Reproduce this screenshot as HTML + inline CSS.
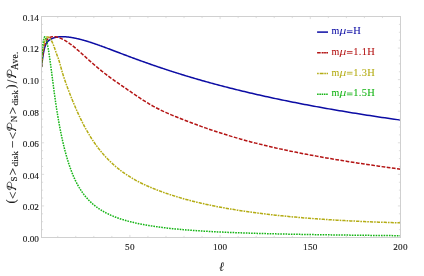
<!DOCTYPE html>
<html><head><meta charset="utf-8"><title>plot</title>
<style>html,body{margin:0;padding:0;background:#fff;width:424px;height:276px;overflow:hidden;font-family:"Liberation Serif",serif}</style></head>
<body>
<svg width="424" height="276" viewBox="0 0 424 276" style="position:absolute;left:0;top:0;will-change:transform">
<rect width="424" height="276" fill="#fff"/>
<clipPath id="c"><rect x="41.5" y="16.5" width="359.0" height="221.0"/></clipPath>
<g clip-path="url(#c)" fill="none" stroke-width="1.5" stroke-linejoin="round">
<path d="M41.50,67.01 L41.52,66.90 L41.53,66.78 L41.55,66.66 L41.56,66.54 L41.58,66.42 L41.60,66.29 L41.62,66.17 L41.63,66.04 L41.65,65.91 L41.67,65.77 L41.68,65.64 L41.70,65.50 L41.72,65.36 L41.74,65.22 L41.76,65.08 L41.77,64.94 L41.79,64.79 L41.81,64.65 L41.83,64.50 L41.85,64.35 L41.87,64.20 L41.89,64.04 L41.91,63.89 L41.93,63.73 L41.95,63.58 L41.97,63.42 L41.99,63.26 L42.01,63.10 L42.03,62.93 L42.05,62.77 L42.07,62.60 L42.09,62.44 L42.11,62.27 L42.13,62.10 L42.15,61.93 L42.18,61.76 L42.20,61.59 L42.22,61.41 L42.24,61.24 L42.27,61.07 L42.29,60.89 L42.31,60.71 L42.33,60.54 L42.36,60.36 L42.38,60.18 L42.41,60.00 L42.43,59.82 L42.45,59.64 L42.48,59.45 L42.50,59.27 L42.53,59.09 L42.55,58.91 L42.58,58.72 L42.60,58.54 L42.63,58.35 L42.66,58.17 L42.68,57.98 L42.71,57.79 L42.74,57.61 L42.76,57.42 L42.79,57.23 L42.82,57.05 L42.85,56.86 L42.87,56.67 L42.90,56.48 L42.93,56.29 L42.96,56.11 L42.99,55.92 L43.02,55.73 L43.05,55.54 L43.08,55.35 L43.11,55.17 L43.14,54.98 L43.17,54.79 L43.20,54.60 L43.23,54.42 L43.26,54.23 L43.29,54.04 L43.32,53.86 L43.36,53.67 L43.39,53.48 L43.42,53.30 L43.46,53.11 L43.49,52.93 L43.52,52.75 L43.56,52.56 L43.59,52.38 L43.63,52.20 L43.66,52.02 L43.70,51.83 L43.73,51.65 L43.77,51.48 L43.80,51.30 L43.84,51.12 L43.88,50.94 L43.91,50.77 L43.95,50.59 L43.99,50.42 L44.03,50.24 L44.07,50.07 L44.10,49.90 L44.14,49.73 L44.18,49.56 L44.22,49.39 L44.26,49.23 L44.30,49.06 L44.34,48.90 L44.39,48.73 L44.43,48.57 L44.47,48.41 L44.51,48.25 L44.55,48.09 L44.60,47.94 L44.64,47.78 L44.68,47.63 L44.73,47.47 L44.77,47.32 L44.82,47.18 L44.86,47.03 L44.91,46.88 L44.96,46.74 L45.00,46.59 L45.05,46.45 L45.10,46.31 L45.15,46.17 L45.19,46.04 L45.24,45.90 L45.29,45.77 L45.34,45.63 L45.39,45.50 L45.44,45.37 L45.49,45.25 L45.55,45.12 L45.60,44.99 L45.65,44.87 L45.70,44.75 L45.76,44.63 L45.81,44.51 L45.86,44.39 L45.92,44.27 L45.97,44.16 L46.03,44.04 L46.09,43.93 L46.14,43.82 L46.20,43.71 L46.26,43.60 L46.32,43.49 L46.38,43.39 L46.44,43.28 L46.50,43.18 L46.56,43.08 L46.62,42.98 L46.68,42.88 L46.74,42.79 L46.80,42.69 L46.87,42.59 L46.93,42.50 L46.99,42.41 L47.06,42.32 L47.12,42.23 L47.19,42.14 L47.26,42.06 L47.32,41.97 L47.39,41.89 L47.46,41.81 L47.53,41.72 L47.60,41.64 L47.67,41.57 L47.74,41.49 L47.81,41.41 L47.88,41.34 L47.96,41.27 L48.03,41.19 L48.10,41.12 L48.18,41.05 L48.25,40.98 L48.33,40.92 L48.41,40.85 L48.48,40.78 L48.56,40.72 L48.64,40.65 L48.72,40.59 L48.80,40.53 L48.88,40.46 L48.96,40.40 L49.04,40.34 L49.13,40.28 L49.21,40.22 L49.30,40.16 L49.38,40.10 L49.47,40.04 L49.55,39.98 L49.64,39.92 L49.73,39.86 L49.82,39.80 L49.91,39.74 L50.00,39.68 L50.09,39.63 L50.18,39.57 L50.28,39.51 L50.37,39.45 L50.47,39.40 L50.56,39.34 L50.66,39.29 L50.76,39.23 L50.85,39.18 L50.95,39.12 L51.05,39.07 L51.15,39.01 L51.26,38.96 L51.36,38.91 L51.46,38.85 L51.57,38.80 L51.67,38.75 L51.78,38.70 L51.89,38.65 L51.99,38.60 L52.10,38.55 L52.21,38.50 L52.32,38.45 L52.44,38.40 L52.55,38.35 L52.66,38.31 L52.78,38.26 L52.90,38.21 L53.01,38.17 L53.13,38.12 L53.25,38.08 L53.37,38.03 L53.49,37.99 L53.62,37.95 L53.74,37.90 L53.86,37.86 L53.99,37.82 L54.12,37.78 L54.24,37.74 L54.37,37.70 L54.50,37.66 L54.64,37.62 L54.77,37.58 L54.90,37.55 L55.04,37.51 L55.17,37.48 L55.31,37.44 L55.45,37.41 L55.59,37.37 L55.73,37.34 L55.87,37.31 L56.02,37.28 L56.16,37.25 L56.31,37.22 L56.46,37.19 L56.61,37.16 L56.76,37.13 L56.91,37.10 L57.06,37.08 L57.21,37.05 L57.37,37.03 L57.53,37.00 L57.69,36.98 L57.85,36.96 L58.01,36.93 L58.17,36.91 L58.33,36.89 L58.50,36.87 L58.67,36.86 L58.83,36.84 L59.00,36.82 L59.18,36.81 L59.35,36.79 L59.52,36.78 L59.70,36.76 L59.88,36.75 L60.06,36.74 L60.24,36.73 L60.42,36.72 L60.60,36.71 L60.79,36.70 L60.98,36.70 L61.17,36.69 L61.36,36.69 L61.55,36.68 L61.74,36.68 L61.94,36.68 L62.14,36.68 L62.34,36.68 L62.54,36.68 L62.74,36.68 L62.95,36.68 L63.15,36.69 L63.36,36.69 L63.57,36.70 L63.78,36.71 L64.00,36.71 L64.21,36.72 L64.43,36.73 L64.65,36.74 L64.87,36.76 L65.10,36.77 L65.32,36.79 L65.55,36.80 L65.78,36.82 L66.01,36.84 L66.24,36.86 L66.48,36.88 L66.72,36.90 L66.96,36.92 L67.20,36.94 L67.45,36.97 L67.69,36.99 L67.94,37.02 L68.19,37.05 L68.44,37.08 L68.70,37.11 L68.96,37.14 L69.22,37.18 L69.48,37.21 L69.74,37.25 L70.01,37.28 L70.28,37.32 L70.55,37.36 L70.83,37.40 L71.10,37.45 L71.38,37.49 L71.66,37.54 L71.95,37.58 L72.23,37.63 L72.52,37.68 L72.82,37.73 L73.11,37.79 L73.41,37.84 L73.71,37.90 L74.01,37.96 L74.31,38.01 L74.62,38.08 L74.93,38.14 L75.24,38.20 L75.56,38.27 L75.88,38.33 L76.20,38.40 L76.52,38.47 L76.85,38.55 L77.18,38.62 L77.51,38.70 L77.85,38.77 L78.19,38.85 L78.53,38.93 L78.88,39.02 L79.22,39.10 L79.58,39.19 L79.93,39.28 L80.29,39.37 L80.65,39.46 L81.01,39.55 L81.38,39.65 L81.75,39.75 L82.12,39.85 L82.50,39.95 L82.88,40.05 L83.26,40.16 L83.65,40.27 L84.04,40.38 L84.44,40.49 L84.83,40.60 L85.23,40.72 L85.64,40.84 L86.05,40.96 L86.46,41.08 L86.87,41.21 L87.29,41.33 L87.72,41.46 L88.14,41.59 L88.57,41.73 L89.01,41.86 L89.45,42.00 L89.89,42.14 L90.33,42.28 L90.78,42.43 L91.24,42.58 L91.69,42.73 L92.16,42.88 L92.62,43.03 L93.09,43.19 L93.57,43.35 L94.05,43.51 L94.53,43.67 L95.02,43.84 L95.51,44.01 L96.00,44.18 L96.50,44.36 L97.01,44.53 L97.52,44.71 L98.03,44.89 L98.55,45.08 L99.07,45.26 L99.60,45.45 L100.13,45.65 L100.67,45.84 L101.21,46.04 L101.76,46.24 L102.31,46.44 L102.87,46.64 L103.43,46.85 L103.99,47.06 L104.56,47.27 L105.14,47.48 L105.72,47.70 L106.31,47.92 L106.90,48.14 L107.50,48.37 L108.10,48.59 L108.71,48.82 L109.32,49.05 L109.94,49.29 L110.56,49.52 L111.19,49.76 L111.83,50.00 L112.47,50.24 L113.12,50.49 L113.77,50.74 L114.43,50.99 L115.09,51.24 L115.76,51.49 L116.44,51.75 L117.12,52.01 L117.80,52.27 L118.50,52.53 L119.20,52.80 L119.91,53.07 L120.62,53.34 L121.34,53.61 L122.06,53.88 L122.79,54.16 L123.53,54.44 L124.28,54.72 L125.03,55.00 L125.79,55.28 L126.55,55.57 L127.32,55.86 L128.10,56.15 L128.89,56.45 L129.68,56.74 L130.48,57.04 L131.29,57.34 L132.10,57.64 L132.92,57.94 L133.75,58.25 L134.58,58.56 L135.43,58.87 L136.28,59.18 L137.14,59.49 L138.00,59.81 L138.87,60.12 L139.76,60.44 L140.65,60.76 L141.54,61.09 L142.45,61.41 L143.36,61.74 L144.28,62.07 L145.21,62.40 L146.15,62.73 L147.09,63.07 L148.05,63.40 L149.01,63.74 L149.98,64.08 L150.96,64.42 L151.95,64.77 L152.95,65.11 L153.95,65.46 L154.97,65.81 L155.99,66.16 L157.03,66.51 L158.07,66.86 L159.12,67.22 L160.18,67.58 L161.25,67.94 L162.33,68.30 L163.42,68.66 L164.52,69.03 L165.63,69.39 L166.75,69.76 L167.88,70.13 L169.02,70.50 L170.16,70.87 L171.32,71.25 L172.49,71.62 L173.67,72.00 L174.86,72.38 L176.06,72.76 L177.28,73.14 L178.50,73.52 L179.73,73.91 L180.97,74.29 L182.23,74.68 L183.50,75.07 L184.77,75.46 L186.06,75.85 L187.36,76.25 L188.68,76.64 L190.00,77.04 L191.33,77.43 L192.68,77.83 L194.04,78.23 L195.41,78.63 L196.80,79.03 L198.19,79.44 L199.60,79.84 L201.02,80.25 L202.45,80.66 L203.90,81.06 L205.36,81.47 L206.83,81.88 L208.31,82.30 L209.81,82.71 L211.32,83.12 L212.85,83.54 L214.39,83.95 L215.94,84.37 L217.51,84.79 L219.09,85.21 L220.68,85.63 L222.29,86.05 L223.91,86.47 L225.55,86.89 L227.20,87.32 L228.86,87.74 L230.54,88.17 L232.24,88.59 L233.95,89.02 L235.68,89.45 L237.42,89.88 L239.17,90.31 L240.95,90.74 L242.73,91.17 L244.54,91.60 L246.36,92.03 L248.19,92.47 L250.05,92.90 L251.91,93.34 L253.80,93.77 L255.70,94.21 L257.62,94.65 L259.56,95.08 L261.51,95.52 L263.48,95.96 L265.47,96.40 L267.48,96.84 L269.50,97.28 L271.54,97.72 L273.60,98.16 L275.68,98.61 L277.78,99.05 L279.89,99.49 L282.03,99.93 L284.18,100.38 L286.35,100.82 L288.54,101.27 L290.75,101.71 L292.98,102.16 L295.23,102.60 L297.50,103.05 L299.79,103.49 L302.11,103.94 L304.44,104.39 L306.79,104.84 L309.16,105.28 L311.56,105.73 L313.97,106.18 L316.41,106.63 L318.87,107.07 L321.35,107.52 L323.85,107.97 L326.37,108.42 L328.92,108.87 L331.49,109.32 L334.08,109.77 L336.70,110.22 L339.34,110.66 L342.00,111.11 L344.68,111.56 L347.39,112.01 L350.13,112.46 L352.89,112.91 L355.67,113.36 L358.48,113.81 L361.31,114.26 L364.17,114.71 L367.05,115.15 L369.96,115.60 L372.89,116.05 L375.85,116.50 L378.84,116.95 L381.85,117.39 L384.89,117.84 L387.96,118.29 L391.05,118.74 L394.17,119.18 L397.32,119.63 L400.50,120.08" stroke="#0c0ca4"/>
<path d="M41.50,66.99 L41.52,66.77 L41.53,66.55 L41.55,66.34 L41.56,66.12 L41.58,65.91 L41.60,65.69 L41.62,65.48 L41.63,65.26 L41.65,65.04 L41.67,64.83 L41.68,64.61 L41.70,64.40 L41.72,64.19 L41.74,63.97 L41.76,63.76 L41.77,63.54 L41.79,63.33 L41.81,63.11 L41.83,62.90 L41.85,62.69 L41.87,62.47 L41.89,62.26 L41.91,62.05 L41.93,61.84 L41.95,61.63 L41.97,61.41 L41.99,61.20 L42.01,60.99 L42.03,60.78 L42.05,60.57 L42.07,60.36 L42.09,60.15 L42.11,59.94 L42.13,59.73 L42.15,59.52 L42.18,59.31 L42.20,59.11 L42.22,58.90 L42.24,58.69 L42.27,58.49 L42.29,58.28 L42.31,58.07 L42.33,57.87 L42.36,57.66 L42.38,57.46 L42.41,57.26 L42.43,57.05 L42.45,56.85 L42.48,56.65 L42.50,56.45 L42.53,56.24 L42.55,56.04 L42.58,55.84 L42.60,55.64 L42.63,55.45 L42.66,55.25 L42.68,55.05 L42.71,54.85 L42.74,54.66 L42.76,54.46 L42.79,54.27 L42.82,54.07 L42.85,53.88 L42.87,53.68 L42.90,53.49 L42.93,53.30 L42.96,53.11 L42.99,52.92 L43.02,52.73 L43.05,52.54 L43.08,52.35 L43.11,52.16 L43.14,51.98 L43.17,51.79 L43.20,51.61 L43.23,51.42 L43.26,51.24 L43.29,51.06 L43.32,50.87 L43.36,50.69 L43.39,50.51 L43.42,50.33 L43.46,50.15 L43.49,49.98 L43.52,49.80 L43.56,49.62 L43.59,49.45 L43.63,49.27 L43.66,49.10 L43.70,48.93 L43.73,48.76 L43.77,48.59 L43.80,48.42 L43.84,48.25 L43.88,48.08 L43.91,47.92 L43.95,47.75 L43.99,47.59 L44.03,47.42 L44.07,47.26 L44.10,47.10 L44.14,46.94 L44.18,46.78 L44.22,46.62 L44.26,46.47 L44.30,46.31 L44.34,46.16 L44.39,46.00 L44.43,45.85 L44.47,45.70 L44.51,45.55 L44.55,45.40 L44.60,45.25 L44.64,45.10 L44.68,44.96 L44.73,44.81 L44.77,44.67 L44.82,44.53 L44.86,44.39 L44.91,44.25 L44.96,44.11 L45.00,43.97 L45.05,43.84 L45.10,43.70 L45.15,43.57 L45.19,43.44 L45.24,43.31 L45.29,43.18 L45.34,43.05 L45.39,42.92 L45.44,42.80 L45.49,42.68 L45.55,42.55 L45.60,42.43 L45.65,42.31 L45.70,42.19 L45.76,42.07 L45.81,41.96 L45.86,41.84 L45.92,41.73 L45.97,41.62 L46.03,41.51 L46.09,41.40 L46.14,41.29 L46.20,41.18 L46.26,41.08 L46.32,40.97 L46.38,40.87 L46.44,40.77 L46.50,40.66 L46.56,40.57 L46.62,40.47 L46.68,40.37 L46.74,40.28 L46.80,40.18 L46.87,40.09 L46.93,40.00 L46.99,39.91 L47.06,39.82 L47.12,39.73 L47.19,39.64 L47.26,39.56 L47.32,39.47 L47.39,39.39 L47.46,39.31 L47.53,39.23 L47.60,39.15 L47.67,39.07 L47.74,38.99 L47.81,38.92 L47.88,38.85 L47.96,38.77 L48.03,38.70 L48.10,38.63 L48.18,38.56 L48.25,38.50 L48.33,38.43 L48.41,38.36 L48.48,38.30 L48.56,38.24 L48.64,38.18 L48.72,38.12 L48.80,38.06 L48.88,38.00 L48.96,37.94 L49.04,37.89 L49.13,37.83 L49.21,37.78 L49.30,37.73 L49.38,37.68 L49.47,37.63 L49.55,37.58 L49.64,37.54 L49.73,37.49 L49.82,37.45 L49.91,37.41 L50.00,37.37 L50.09,37.33 L50.18,37.29 L50.28,37.25 L50.37,37.21 L50.47,37.18 L50.56,37.14 L50.66,37.11 L50.76,37.08 L50.85,37.05 L50.95,37.02 L51.05,36.99 L51.15,36.97 L51.26,36.94 L51.36,36.92 L51.46,36.89 L51.57,36.87 L51.67,36.85 L51.78,36.83 L51.89,36.81 L51.99,36.80 L52.10,36.78 L52.21,36.77 L52.32,36.76 L52.44,36.74 L52.55,36.73 L52.66,36.72 L52.78,36.72 L52.90,36.71 L53.01,36.70 L53.13,36.70 L53.25,36.69 L53.37,36.69 L53.49,36.69 L53.62,36.69 L53.74,36.69 L53.86,36.70 L53.99,36.70 L54.12,36.71 L54.24,36.71 L54.37,36.72 L54.50,36.73 L54.64,36.74 L54.77,36.75 L54.90,36.76 L55.04,36.78 L55.17,36.79 L55.31,36.81 L55.45,36.82 L55.59,36.84 L55.73,36.86 L55.87,36.89 L56.02,36.91 L56.16,36.94 L56.31,36.96 L56.46,36.99 L56.61,37.02 L56.76,37.05 L56.91,37.08 L57.06,37.12 L57.21,37.15 L57.37,37.19 L57.53,37.23 L57.69,37.27 L57.85,37.32 L58.01,37.36 L58.17,37.41 L58.33,37.46 L58.50,37.51 L58.67,37.56 L58.83,37.62 L59.00,37.67 L59.18,37.73 L59.35,37.79 L59.52,37.85 L59.70,37.92 L59.88,37.99 L60.06,38.06 L60.24,38.13 L60.42,38.20 L60.60,38.28 L60.79,38.35 L60.98,38.43 L61.17,38.52 L61.36,38.60 L61.55,38.69 L61.74,38.78 L61.94,38.87 L62.14,38.97 L62.34,39.06 L62.54,39.16 L62.74,39.27 L62.95,39.37 L63.15,39.48 L63.36,39.59 L63.57,39.70 L63.78,39.81 L64.00,39.93 L64.21,40.05 L64.43,40.18 L64.65,40.30 L64.87,40.43 L65.10,40.56 L65.32,40.70 L65.55,40.84 L65.78,40.98 L66.01,41.12 L66.24,41.27 L66.48,41.42 L66.72,41.57 L66.96,41.72 L67.20,41.88 L67.45,42.04 L67.69,42.21 L67.94,42.38 L68.19,42.55 L68.44,42.72 L68.70,42.90 L68.96,43.08 L69.22,43.26 L69.48,43.45 L69.74,43.64 L70.01,43.84 L70.28,44.03 L70.55,44.23 L70.83,44.44 L71.10,44.65 L71.38,44.86 L71.66,45.07 L71.95,45.29 L72.23,45.51 L72.52,45.74 L72.82,45.97 L73.11,46.20 L73.41,46.44 L73.71,46.68 L74.01,46.92 L74.31,47.17 L74.62,47.42 L74.93,47.68 L75.24,47.94 L75.56,48.20 L75.88,48.47 L76.20,48.74 L76.52,49.01 L76.85,49.29 L77.18,49.58 L77.51,49.86 L77.85,50.16 L78.19,50.45 L78.53,50.75 L78.88,51.05 L79.22,51.36 L79.58,51.67 L79.93,51.99 L80.29,52.31 L80.65,52.63 L81.01,52.96 L81.38,53.29 L81.75,53.62 L82.12,53.96 L82.50,54.30 L82.88,54.64 L83.26,54.99 L83.65,55.34 L84.04,55.70 L84.44,56.06 L84.83,56.42 L85.23,56.78 L85.64,57.15 L86.05,57.52 L86.46,57.89 L86.87,58.27 L87.29,58.65 L87.72,59.03 L88.14,59.41 L88.57,59.80 L89.01,60.19 L89.45,60.58 L89.89,60.97 L90.33,61.37 L90.78,61.77 L91.24,62.17 L91.69,62.58 L92.16,62.98 L92.62,63.39 L93.09,63.80 L93.57,64.22 L94.05,64.63 L94.53,65.05 L95.02,65.47 L95.51,65.89 L96.00,66.31 L96.50,66.74 L97.01,67.16 L97.52,67.59 L98.03,68.02 L98.55,68.45 L99.07,68.89 L99.60,69.32 L100.13,69.75 L100.67,70.19 L101.21,70.63 L101.76,71.07 L102.31,71.51 L102.87,71.95 L103.43,72.39 L103.99,72.84 L104.56,73.28 L105.14,73.73 L105.72,74.18 L106.31,74.62 L106.90,75.07 L107.50,75.52 L108.10,75.97 L108.71,76.42 L109.32,76.88 L109.94,77.33 L110.56,77.79 L111.19,78.24 L111.83,78.70 L112.47,79.16 L113.12,79.63 L113.77,80.09 L114.43,80.56 L115.09,81.03 L115.76,81.50 L116.44,81.98 L117.12,82.46 L117.80,82.94 L118.50,83.42 L119.20,83.91 L119.91,84.40 L120.62,84.89 L121.34,85.39 L122.06,85.89 L122.79,86.39 L123.53,86.90 L124.28,87.41 L125.03,87.93 L125.79,88.45 L126.55,88.98 L127.32,89.51 L128.10,90.04 L128.89,90.58 L129.68,91.12 L130.48,91.67 L131.29,92.22 L132.10,92.78 L132.92,93.34 L133.75,93.91 L134.58,94.48 L135.43,95.05 L136.28,95.63 L137.14,96.21 L138.00,96.79 L138.87,97.37 L139.76,97.95 L140.65,98.54 L141.54,99.13 L142.45,99.71 L143.36,100.30 L144.28,100.88 L145.21,101.46 L146.15,102.04 L147.09,102.62 L148.05,103.20 L149.01,103.78 L149.98,104.35 L150.96,104.92 L151.95,105.48 L152.95,106.04 L153.95,106.59 L154.97,107.14 L155.99,107.69 L157.03,108.22 L158.07,108.76 L159.12,109.28 L160.18,109.80 L161.25,110.32 L162.33,110.83 L163.42,111.34 L164.52,111.85 L165.63,112.35 L166.75,112.85 L167.88,113.35 L169.02,113.84 L170.16,114.34 L171.32,114.83 L172.49,115.32 L173.67,115.81 L174.86,116.30 L176.06,116.79 L177.28,117.28 L178.50,117.77 L179.73,118.26 L180.97,118.76 L182.23,119.25 L183.50,119.75 L184.77,120.25 L186.06,120.75 L187.36,121.25 L188.68,121.75 L190.00,122.26 L191.33,122.77 L192.68,123.27 L194.04,123.78 L195.41,124.29 L196.80,124.80 L198.19,125.31 L199.60,125.82 L201.02,126.34 L202.45,126.85 L203.90,127.37 L205.36,127.88 L206.83,128.39 L208.31,128.91 L209.81,129.43 L211.32,129.94 L212.85,130.46 L214.39,130.97 L215.94,131.49 L217.51,132.00 L219.09,132.52 L220.68,133.03 L222.29,133.55 L223.91,134.06 L225.55,134.58 L227.20,135.09 L228.86,135.60 L230.54,136.11 L232.24,136.62 L233.95,137.13 L235.68,137.64 L237.42,138.15 L239.17,138.65 L240.95,139.16 L242.73,139.66 L244.54,140.16 L246.36,140.67 L248.19,141.16 L250.05,141.66 L251.91,142.16 L253.80,142.65 L255.70,143.14 L257.62,143.63 L259.56,144.12 L261.51,144.60 L263.48,145.09 L265.47,145.57 L267.48,146.05 L269.50,146.52 L271.54,147.00 L273.60,147.47 L275.68,147.94 L277.78,148.41 L279.89,148.88 L282.03,149.34 L284.18,149.80 L286.35,150.27 L288.54,150.73 L290.75,151.18 L292.98,151.64 L295.23,152.10 L297.50,152.55 L299.79,153.00 L302.11,153.45 L304.44,153.90 L306.79,154.35 L309.16,154.80 L311.56,155.24 L313.97,155.69 L316.41,156.13 L318.87,156.58 L321.35,157.02 L323.85,157.46 L326.37,157.90 L328.92,158.34 L331.49,158.78 L334.08,159.22 L336.70,159.65 L339.34,160.09 L342.00,160.53 L344.68,160.96 L347.39,161.40 L350.13,161.83 L352.89,162.27 L355.67,162.70 L358.48,163.14 L361.31,163.57 L364.17,164.01 L367.05,164.44 L369.96,164.88 L372.89,165.31 L375.85,165.75 L378.84,166.18 L381.85,166.62 L384.89,167.05 L387.96,167.49 L391.05,167.92 L394.17,168.36 L397.32,168.80 L400.50,169.23" stroke="#b41414" stroke-dasharray="3.7 1.5"/>
<path d="M41.50,67.01 L41.52,66.63 L41.53,66.26 L41.55,65.90 L41.56,65.54 L41.58,65.19 L41.60,64.85 L41.62,64.51 L41.63,64.18 L41.65,63.86 L41.67,63.54 L41.68,63.23 L41.70,62.92 L41.72,62.62 L41.74,62.32 L41.76,62.03 L41.77,61.75 L41.79,61.47 L41.81,61.19 L41.83,60.92 L41.85,60.65 L41.87,60.39 L41.89,60.13 L41.91,59.87 L41.93,59.62 L41.95,59.37 L41.97,59.13 L41.99,58.89 L42.01,58.65 L42.03,58.42 L42.05,58.18 L42.07,57.96 L42.09,57.73 L42.11,57.50 L42.13,57.28 L42.15,57.06 L42.18,56.84 L42.20,56.63 L42.22,56.41 L42.24,56.20 L42.27,55.99 L42.29,55.78 L42.31,55.57 L42.33,55.36 L42.36,55.15 L42.38,54.94 L42.41,54.73 L42.43,54.53 L42.45,54.32 L42.48,54.11 L42.50,53.91 L42.53,53.70 L42.55,53.49 L42.58,53.28 L42.60,53.07 L42.63,52.86 L42.66,52.65 L42.68,52.44 L42.71,52.22 L42.74,52.01 L42.76,51.80 L42.79,51.58 L42.82,51.37 L42.85,51.15 L42.87,50.93 L42.90,50.72 L42.93,50.50 L42.96,50.28 L42.99,50.07 L43.02,49.85 L43.05,49.63 L43.08,49.41 L43.11,49.20 L43.14,48.98 L43.17,48.76 L43.20,48.55 L43.23,48.33 L43.26,48.12 L43.29,47.90 L43.32,47.69 L43.36,47.47 L43.39,47.26 L43.42,47.05 L43.46,46.83 L43.49,46.62 L43.52,46.41 L43.56,46.20 L43.59,46.00 L43.63,45.79 L43.66,45.58 L43.70,45.38 L43.73,45.18 L43.77,44.97 L43.80,44.77 L43.84,44.57 L43.88,44.38 L43.91,44.18 L43.95,43.99 L43.99,43.79 L44.03,43.60 L44.07,43.41 L44.10,43.23 L44.14,43.04 L44.18,42.86 L44.22,42.68 L44.26,42.50 L44.30,42.32 L44.34,42.15 L44.39,41.98 L44.43,41.81 L44.47,41.64 L44.51,41.48 L44.55,41.32 L44.60,41.16 L44.64,41.00 L44.68,40.85 L44.73,40.70 L44.77,40.55 L44.82,40.40 L44.86,40.26 L44.91,40.12 L44.96,39.98 L45.00,39.85 L45.05,39.72 L45.10,39.59 L45.15,39.46 L45.19,39.34 L45.24,39.22 L45.29,39.10 L45.34,38.99 L45.39,38.88 L45.44,38.77 L45.49,38.66 L45.55,38.56 L45.60,38.46 L45.65,38.36 L45.70,38.27 L45.76,38.18 L45.81,38.09 L45.86,38.00 L45.92,37.92 L45.97,37.84 L46.03,37.77 L46.09,37.70 L46.14,37.63 L46.20,37.56 L46.26,37.50 L46.32,37.44 L46.38,37.38 L46.44,37.32 L46.50,37.27 L46.56,37.22 L46.62,37.18 L46.68,37.14 L46.74,37.10 L46.80,37.06 L46.87,37.03 L46.93,37.00 L46.99,36.98 L47.06,36.96 L47.12,36.94 L47.19,36.92 L47.26,36.91 L47.32,36.90 L47.39,36.89 L47.46,36.89 L47.53,36.89 L47.60,36.89 L47.67,36.90 L47.74,36.91 L47.81,36.92 L47.88,36.94 L47.96,36.96 L48.03,36.99 L48.10,37.01 L48.18,37.04 L48.25,37.08 L48.33,37.12 L48.41,37.16 L48.48,37.20 L48.56,37.25 L48.64,37.30 L48.72,37.35 L48.80,37.41 L48.88,37.48 L48.96,37.54 L49.04,37.61 L49.13,37.68 L49.21,37.76 L49.30,37.84 L49.38,37.92 L49.47,38.01 L49.55,38.10 L49.64,38.19 L49.73,38.29 L49.82,38.39 L49.91,38.49 L50.00,38.60 L50.09,38.72 L50.18,38.83 L50.28,38.95 L50.37,39.08 L50.47,39.20 L50.56,39.34 L50.66,39.47 L50.76,39.61 L50.85,39.76 L50.95,39.91 L51.05,40.07 L51.15,40.23 L51.26,40.40 L51.36,40.57 L51.46,40.75 L51.57,40.93 L51.67,41.12 L51.78,41.32 L51.89,41.52 L51.99,41.73 L52.10,41.94 L52.21,42.17 L52.32,42.39 L52.44,42.63 L52.55,42.87 L52.66,43.12 L52.78,43.38 L52.90,43.64 L53.01,43.91 L53.13,44.19 L53.25,44.48 L53.37,44.77 L53.49,45.08 L53.62,45.39 L53.74,45.71 L53.86,46.04 L53.99,46.38 L54.12,46.72 L54.24,47.08 L54.37,47.44 L54.50,47.81 L54.64,48.20 L54.77,48.59 L54.90,48.99 L55.04,49.40 L55.17,49.82 L55.31,50.23 L55.45,50.66 L55.59,51.08 L55.73,51.51 L55.87,51.93 L56.02,52.36 L56.16,52.78 L56.31,53.19 L56.46,53.60 L56.61,54.00 L56.76,54.40 L56.91,54.80 L57.06,55.19 L57.21,55.59 L57.37,55.99 L57.53,56.39 L57.69,56.80 L57.85,57.23 L58.01,57.66 L58.17,58.10 L58.33,58.56 L58.50,59.04 L58.67,59.54 L58.83,60.05 L59.00,60.59 L59.18,61.15 L59.35,61.74 L59.52,62.34 L59.70,62.96 L59.88,63.60 L60.06,64.25 L60.24,64.92 L60.42,65.59 L60.60,66.27 L60.79,66.95 L60.98,67.63 L61.17,68.32 L61.36,69.00 L61.55,69.68 L61.74,70.36 L61.94,71.03 L62.14,71.70 L62.34,72.37 L62.54,73.04 L62.74,73.71 L62.95,74.37 L63.15,75.03 L63.36,75.69 L63.57,76.35 L63.78,77.01 L64.00,77.66 L64.21,78.32 L64.43,78.98 L64.65,79.63 L64.87,80.28 L65.10,80.94 L65.32,81.59 L65.55,82.24 L65.78,82.90 L66.01,83.55 L66.24,84.21 L66.48,84.86 L66.72,85.52 L66.96,86.18 L67.20,86.83 L67.45,87.49 L67.69,88.16 L67.94,88.82 L68.19,89.48 L68.44,90.15 L68.70,90.82 L68.96,91.49 L69.22,92.17 L69.48,92.84 L69.74,93.52 L70.01,94.21 L70.28,94.89 L70.55,95.58 L70.83,96.27 L71.10,96.97 L71.38,97.67 L71.66,98.37 L71.95,99.07 L72.23,99.78 L72.52,100.49 L72.82,101.20 L73.11,101.92 L73.41,102.64 L73.71,103.36 L74.01,104.08 L74.31,104.80 L74.62,105.53 L74.93,106.26 L75.24,106.99 L75.56,107.72 L75.88,108.45 L76.20,109.19 L76.52,109.93 L76.85,110.66 L77.18,111.40 L77.51,112.14 L77.85,112.88 L78.19,113.63 L78.53,114.37 L78.88,115.11 L79.22,115.86 L79.58,116.60 L79.93,117.35 L80.29,118.09 L80.65,118.84 L81.01,119.59 L81.38,120.33 L81.75,121.08 L82.12,121.83 L82.50,122.57 L82.88,123.32 L83.26,124.06 L83.65,124.81 L84.04,125.55 L84.44,126.29 L84.83,127.04 L85.23,127.78 L85.64,128.52 L86.05,129.26 L86.46,130.00 L86.87,130.73 L87.29,131.47 L87.72,132.20 L88.14,132.93 L88.57,133.66 L89.01,134.39 L89.45,135.12 L89.89,135.84 L90.33,136.57 L90.78,137.29 L91.24,138.00 L91.69,138.72 L92.16,139.43 L92.62,140.14 L93.09,140.85 L93.57,141.55 L94.05,142.26 L94.53,142.95 L95.02,143.65 L95.51,144.34 L96.00,145.03 L96.50,145.72 L97.01,146.41 L97.52,147.09 L98.03,147.77 L98.55,148.44 L99.07,149.11 L99.60,149.78 L100.13,150.45 L100.67,151.11 L101.21,151.77 L101.76,152.43 L102.31,153.08 L102.87,153.73 L103.43,154.37 L103.99,155.02 L104.56,155.66 L105.14,156.29 L105.72,156.93 L106.31,157.56 L106.90,158.18 L107.50,158.80 L108.10,159.42 L108.71,160.04 L109.32,160.65 L109.94,161.26 L110.56,161.86 L111.19,162.47 L111.83,163.06 L112.47,163.66 L113.12,164.25 L113.77,164.83 L114.43,165.41 L115.09,165.99 L115.76,166.57 L116.44,167.14 L117.12,167.71 L117.80,168.27 L118.50,168.83 L119.20,169.38 L119.91,169.94 L120.62,170.48 L121.34,171.03 L122.06,171.57 L122.79,172.10 L123.53,172.63 L124.28,173.16 L125.03,173.68 L125.79,174.20 L126.55,174.71 L127.32,175.22 L128.10,175.73 L128.89,176.23 L129.68,176.73 L130.48,177.22 L131.29,177.71 L132.10,178.19 L132.92,178.67 L133.75,179.15 L134.58,179.62 L135.43,180.09 L136.28,180.55 L137.14,181.01 L138.00,181.47 L138.87,181.92 L139.76,182.37 L140.65,182.82 L141.54,183.26 L142.45,183.70 L143.36,184.13 L144.28,184.57 L145.21,185.00 L146.15,185.42 L147.09,185.85 L148.05,186.27 L149.01,186.69 L149.98,187.11 L150.96,187.52 L151.95,187.93 L152.95,188.34 L153.95,188.75 L154.97,189.16 L155.99,189.56 L157.03,189.96 L158.07,190.36 L159.12,190.76 L160.18,191.16 L161.25,191.56 L162.33,191.95 L163.42,192.34 L164.52,192.73 L165.63,193.12 L166.75,193.50 L167.88,193.89 L169.02,194.27 L170.16,194.65 L171.32,195.03 L172.49,195.40 L173.67,195.78 L174.86,196.15 L176.06,196.52 L177.28,196.89 L178.50,197.25 L179.73,197.62 L180.97,197.98 L182.23,198.34 L183.50,198.70 L184.77,199.05 L186.06,199.41 L187.36,199.76 L188.68,200.11 L190.00,200.46 L191.33,200.80 L192.68,201.15 L194.04,201.49 L195.41,201.83 L196.80,202.16 L198.19,202.50 L199.60,202.83 L201.02,203.16 L202.45,203.49 L203.90,203.82 L205.36,204.14 L206.83,204.46 L208.31,204.78 L209.81,205.10 L211.32,205.41 L212.85,205.73 L214.39,206.04 L215.94,206.35 L217.51,206.65 L219.09,206.96 L220.68,207.26 L222.29,207.56 L223.91,207.85 L225.55,208.15 L227.20,208.44 L228.86,208.73 L230.54,209.02 L232.24,209.30 L233.95,209.59 L235.68,209.87 L237.42,210.14 L239.17,210.42 L240.95,210.69 L242.73,210.96 L244.54,211.23 L246.36,211.50 L248.19,211.76 L250.05,212.02 L251.91,212.28 L253.80,212.53 L255.70,212.79 L257.62,213.04 L259.56,213.29 L261.51,213.53 L263.48,213.78 L265.47,214.02 L267.48,214.25 L269.50,214.49 L271.54,214.72 L273.60,214.95 L275.68,215.18 L277.78,215.40 L279.89,215.63 L282.03,215.85 L284.18,216.06 L286.35,216.28 L288.54,216.49 L290.75,216.70 L292.98,216.90 L295.23,217.11 L297.50,217.31 L299.79,217.51 L302.11,217.70 L304.44,217.90 L306.79,218.09 L309.16,218.27 L311.56,218.46 L313.97,218.64 L316.41,218.82 L318.87,218.99 L321.35,219.17 L323.85,219.34 L326.37,219.50 L328.92,219.67 L331.49,219.83 L334.08,219.99 L336.70,220.14 L339.34,220.30 L342.00,220.45 L344.68,220.59 L347.39,220.74 L350.13,220.88 L352.89,221.02 L355.67,221.15 L358.48,221.29 L361.31,221.42 L364.17,221.54 L367.05,221.67 L369.96,221.79 L372.89,221.90 L375.85,222.02 L378.84,222.13 L381.85,222.24 L384.89,222.34 L387.96,222.45 L391.05,222.55 L394.17,222.64 L397.32,222.73 L400.50,222.82" stroke="#b4ac14" stroke-dasharray="1.6 1.0 3.3 1.0"/>
<path d="M41.50,66.74 L41.52,66.37 L41.53,66.00 L41.55,65.62 L41.56,65.25 L41.58,64.88 L41.60,64.50 L41.62,64.13 L41.63,63.76 L41.65,63.38 L41.67,63.01 L41.68,62.64 L41.70,62.27 L41.72,61.90 L41.74,61.53 L41.76,61.16 L41.77,60.79 L41.79,60.42 L41.81,60.05 L41.83,59.69 L41.85,59.32 L41.87,58.96 L41.89,58.59 L41.91,58.23 L41.93,57.87 L41.95,57.51 L41.97,57.15 L41.99,56.79 L42.01,56.43 L42.03,56.08 L42.05,55.73 L42.07,55.37 L42.09,55.02 L42.11,54.67 L42.13,54.33 L42.15,53.98 L42.18,53.64 L42.20,53.30 L42.22,52.96 L42.24,52.62 L42.27,52.28 L42.29,51.95 L42.31,51.62 L42.33,51.29 L42.36,50.96 L42.38,50.63 L42.41,50.31 L42.43,49.99 L42.45,49.67 L42.48,49.36 L42.50,49.04 L42.53,48.73 L42.55,48.43 L42.58,48.12 L42.60,47.82 L42.63,47.52 L42.66,47.22 L42.68,46.93 L42.71,46.64 L42.74,46.35 L42.76,46.07 L42.79,45.79 L42.82,45.51 L42.85,45.23 L42.87,44.96 L42.90,44.70 L42.93,44.43 L42.96,44.17 L42.99,43.91 L43.02,43.66 L43.05,43.41 L43.08,43.16 L43.11,42.92 L43.14,42.68 L43.17,42.45 L43.20,42.21 L43.23,41.99 L43.26,41.76 L43.29,41.54 L43.32,41.33 L43.36,41.12 L43.39,40.91 L43.42,40.71 L43.46,40.51 L43.49,40.32 L43.52,40.13 L43.56,39.95 L43.59,39.77 L43.63,39.59 L43.66,39.42 L43.70,39.26 L43.73,39.10 L43.77,38.94 L43.80,38.79 L43.84,38.64 L43.88,38.50 L43.91,38.37 L43.95,38.24 L43.99,38.11 L44.03,37.99 L44.07,37.87 L44.10,37.76 L44.14,37.66 L44.18,37.56 L44.22,37.47 L44.26,37.38 L44.30,37.30 L44.34,37.22 L44.39,37.15 L44.43,37.09 L44.47,37.03 L44.51,36.97 L44.55,36.93 L44.60,36.89 L44.64,36.85 L44.68,36.82 L44.73,36.80 L44.77,36.78 L44.82,36.77 L44.86,36.77 L44.91,36.77 L44.96,36.78 L45.00,36.80 L45.05,36.82 L45.10,36.85 L45.15,36.88 L45.19,36.92 L45.24,36.97 L45.29,37.03 L45.34,37.09 L45.39,37.16 L45.44,37.24 L45.49,37.32 L45.55,37.41 L45.60,37.51 L45.65,37.62 L45.70,37.73 L45.76,37.85 L45.81,37.98 L45.86,38.11 L45.92,38.25 L45.97,38.40 L46.03,38.56 L46.09,38.72 L46.14,38.90 L46.20,39.08 L46.26,39.26 L46.32,39.46 L46.38,39.67 L46.44,39.88 L46.50,40.10 L46.56,40.33 L46.62,40.56 L46.68,40.81 L46.74,41.06 L46.80,41.32 L46.87,41.59 L46.93,41.87 L46.99,42.15 L47.06,42.45 L47.12,42.75 L47.19,43.06 L47.26,43.39 L47.32,43.72 L47.39,44.05 L47.46,44.40 L47.53,44.76 L47.60,45.12 L47.67,45.50 L47.74,45.88 L47.81,46.27 L47.88,46.68 L47.96,47.09 L48.03,47.51 L48.10,47.94 L48.18,48.38 L48.25,48.82 L48.33,49.28 L48.41,49.75 L48.48,50.23 L48.56,50.71 L48.64,51.21 L48.72,51.71 L48.80,52.22 L48.88,52.75 L48.96,53.28 L49.04,53.82 L49.13,54.37 L49.21,54.93 L49.30,55.50 L49.38,56.07 L49.47,56.66 L49.55,57.25 L49.64,57.86 L49.73,58.47 L49.82,59.09 L49.91,59.72 L50.00,60.36 L50.09,61.01 L50.18,61.66 L50.28,62.33 L50.37,63.00 L50.47,63.69 L50.56,64.38 L50.66,65.09 L50.76,65.80 L50.85,66.52 L50.95,67.26 L51.05,68.01 L51.15,68.76 L51.26,69.53 L51.36,70.32 L51.46,71.11 L51.57,71.91 L51.67,72.72 L51.78,73.55 L51.89,74.38 L51.99,75.23 L52.10,76.08 L52.21,76.94 L52.32,77.81 L52.44,78.69 L52.55,79.57 L52.66,80.47 L52.78,81.36 L52.90,82.27 L53.01,83.18 L53.13,84.10 L53.25,85.02 L53.37,85.95 L53.49,86.88 L53.62,87.81 L53.74,88.75 L53.86,89.69 L53.99,90.64 L54.12,91.59 L54.24,92.54 L54.37,93.49 L54.50,94.44 L54.64,95.39 L54.77,96.35 L54.90,97.30 L55.04,98.26 L55.17,99.21 L55.31,100.17 L55.45,101.13 L55.59,102.08 L55.73,103.04 L55.87,104.00 L56.02,104.95 L56.16,105.91 L56.31,106.87 L56.46,107.82 L56.61,108.78 L56.76,109.73 L56.91,110.69 L57.06,111.64 L57.21,112.60 L57.37,113.55 L57.53,114.50 L57.69,115.45 L57.85,116.40 L58.01,117.35 L58.17,118.30 L58.33,119.25 L58.50,120.20 L58.67,121.14 L58.83,122.08 L59.00,123.03 L59.18,123.97 L59.35,124.90 L59.52,125.84 L59.70,126.78 L59.88,127.71 L60.06,128.64 L60.24,129.57 L60.42,130.50 L60.60,131.42 L60.79,132.35 L60.98,133.27 L61.17,134.18 L61.36,135.10 L61.55,136.01 L61.74,136.92 L61.94,137.83 L62.14,138.74 L62.34,139.64 L62.54,140.54 L62.74,141.44 L62.95,142.33 L63.15,143.22 L63.36,144.11 L63.57,144.99 L63.78,145.87 L64.00,146.75 L64.21,147.62 L64.43,148.49 L64.65,149.36 L64.87,150.22 L65.10,151.08 L65.32,151.94 L65.55,152.79 L65.78,153.63 L66.01,154.48 L66.24,155.31 L66.48,156.15 L66.72,156.98 L66.96,157.81 L67.20,158.63 L67.45,159.44 L67.69,160.26 L67.94,161.06 L68.19,161.87 L68.44,162.66 L68.70,163.46 L68.96,164.24 L69.22,165.03 L69.48,165.80 L69.74,166.58 L70.01,167.34 L70.28,168.10 L70.55,168.86 L70.83,169.61 L71.10,170.36 L71.38,171.10 L71.66,171.83 L71.95,172.56 L72.23,173.28 L72.52,173.99 L72.82,174.70 L73.11,175.41 L73.41,176.11 L73.71,176.80 L74.01,177.48 L74.31,178.16 L74.62,178.83 L74.93,179.50 L75.24,180.16 L75.56,180.81 L75.88,181.45 L76.20,182.09 L76.52,182.73 L76.85,183.36 L77.18,183.98 L77.51,184.59 L77.85,185.20 L78.19,185.81 L78.53,186.40 L78.88,186.99 L79.22,187.58 L79.58,188.16 L79.93,188.73 L80.29,189.30 L80.65,189.86 L81.01,190.42 L81.38,190.97 L81.75,191.51 L82.12,192.05 L82.50,192.59 L82.88,193.11 L83.26,193.64 L83.65,194.15 L84.04,194.67 L84.44,195.17 L84.83,195.67 L85.23,196.17 L85.64,196.66 L86.05,197.15 L86.46,197.63 L86.87,198.10 L87.29,198.57 L87.72,199.04 L88.14,199.50 L88.57,199.95 L89.01,200.40 L89.45,200.85 L89.89,201.29 L90.33,201.72 L90.78,202.15 L91.24,202.58 L91.69,203.00 L92.16,203.42 L92.62,203.83 L93.09,204.23 L93.57,204.64 L94.05,205.04 L94.53,205.43 L95.02,205.82 L95.51,206.20 L96.00,206.58 L96.50,206.96 L97.01,207.33 L97.52,207.70 L98.03,208.06 L98.55,208.42 L99.07,208.78 L99.60,209.13 L100.13,209.48 L100.67,209.82 L101.21,210.16 L101.76,210.49 L102.31,210.83 L102.87,211.15 L103.43,211.48 L103.99,211.80 L104.56,212.11 L105.14,212.42 L105.72,212.73 L106.31,213.04 L106.90,213.34 L107.50,213.64 L108.10,213.93 L108.71,214.22 L109.32,214.51 L109.94,214.80 L110.56,215.08 L111.19,215.36 L111.83,215.63 L112.47,215.90 L113.12,216.17 L113.77,216.44 L114.43,216.70 L115.09,216.96 L115.76,217.21 L116.44,217.46 L117.12,217.71 L117.80,217.96 L118.50,218.21 L119.20,218.45 L119.91,218.69 L120.62,218.92 L121.34,219.15 L122.06,219.38 L122.79,219.61 L123.53,219.84 L124.28,220.06 L125.03,220.28 L125.79,220.50 L126.55,220.71 L127.32,220.93 L128.10,221.14 L128.89,221.35 L129.68,221.55 L130.48,221.76 L131.29,221.96 L132.10,222.16 L132.92,222.35 L133.75,222.55 L134.58,222.74 L135.43,222.93 L136.28,223.12 L137.14,223.31 L138.00,223.49 L138.87,223.67 L139.76,223.85 L140.65,224.03 L141.54,224.21 L142.45,224.38 L143.36,224.56 L144.28,224.73 L145.21,224.90 L146.15,225.06 L147.09,225.23 L148.05,225.39 L149.01,225.55 L149.98,225.71 L150.96,225.87 L151.95,226.02 L152.95,226.18 L153.95,226.33 L154.97,226.48 L155.99,226.62 L157.03,226.77 L158.07,226.92 L159.12,227.06 L160.18,227.20 L161.25,227.34 L162.33,227.48 L163.42,227.61 L164.52,227.75 L165.63,227.88 L166.75,228.01 L167.88,228.14 L169.02,228.27 L170.16,228.39 L171.32,228.52 L172.49,228.64 L173.67,228.76 L174.86,228.88 L176.06,229.00 L177.28,229.11 L178.50,229.23 L179.73,229.34 L180.97,229.45 L182.23,229.56 L183.50,229.67 L184.77,229.78 L186.06,229.89 L187.36,229.99 L188.68,230.09 L190.00,230.20 L191.33,230.30 L192.68,230.40 L194.04,230.49 L195.41,230.59 L196.80,230.68 L198.19,230.78 L199.60,230.87 L201.02,230.96 L202.45,231.05 L203.90,231.14 L205.36,231.23 L206.83,231.31 L208.31,231.40 L209.81,231.48 L211.32,231.57 L212.85,231.65 L214.39,231.73 L215.94,231.81 L217.51,231.88 L219.09,231.96 L220.68,232.04 L222.29,232.11 L223.91,232.19 L225.55,232.26 L227.20,232.33 L228.86,232.40 L230.54,232.47 L232.24,232.54 L233.95,232.61 L235.68,232.67 L237.42,232.74 L239.17,232.80 L240.95,232.87 L242.73,232.93 L244.54,232.99 L246.36,233.05 L248.19,233.11 L250.05,233.17 L251.91,233.23 L253.80,233.29 L255.70,233.34 L257.62,233.40 L259.56,233.45 L261.51,233.51 L263.48,233.56 L265.47,233.61 L267.48,233.67 L269.50,233.72 L271.54,233.77 L273.60,233.82 L275.68,233.87 L277.78,233.92 L279.89,233.96 L282.03,234.01 L284.18,234.06 L286.35,234.10 L288.54,234.15 L290.75,234.20 L292.98,234.24 L295.23,234.28 L297.50,234.33 L299.79,234.37 L302.11,234.41 L304.44,234.45 L306.79,234.49 L309.16,234.53 L311.56,234.58 L313.97,234.62 L316.41,234.65 L318.87,234.69 L321.35,234.73 L323.85,234.77 L326.37,234.81 L328.92,234.85 L331.49,234.88 L334.08,234.92 L336.70,234.96 L339.34,234.99 L342.00,235.03 L344.68,235.06 L347.39,235.10 L350.13,235.13 L352.89,235.17 L355.67,235.20 L358.48,235.24 L361.31,235.27 L364.17,235.31 L367.05,235.34 L369.96,235.37 L372.89,235.41 L375.85,235.44 L378.84,235.48 L381.85,235.51 L384.89,235.54 L387.96,235.57 L391.05,235.61 L394.17,235.64 L397.32,235.67 L400.50,235.71" stroke="#14b414" stroke-dasharray="1.6 1.05"/>
</g>
<g stroke="#d0d0d0" stroke-width="1" fill="none" shape-rendering="crispEdges">
<rect x="41.5" y="16.5" width="359.0" height="221.0"/>
</g>
<path d="M57.74,237.5v-1.6M57.74,16.5v1.6M75.78,237.5v-1.6M75.78,16.5v1.6M93.82,237.5v-1.6M93.82,16.5v1.6M111.86,237.5v-1.6M111.86,16.5v1.6M129.90,237.5v-2.6M129.90,16.5v2.6M147.94,237.5v-1.6M147.94,16.5v1.6M165.98,237.5v-1.6M165.98,16.5v1.6M184.02,237.5v-1.6M184.02,16.5v1.6M202.06,237.5v-1.6M202.06,16.5v1.6M220.10,237.5v-2.6M220.10,16.5v2.6M238.14,237.5v-1.6M238.14,16.5v1.6M256.18,237.5v-1.6M256.18,16.5v1.6M274.22,237.5v-1.6M274.22,16.5v1.6M292.26,237.5v-1.6M292.26,16.5v1.6M310.30,237.5v-2.6M310.30,16.5v2.6M328.34,237.5v-1.6M328.34,16.5v1.6M346.38,237.5v-1.6M346.38,16.5v1.6M364.42,237.5v-1.6M364.42,16.5v1.6M382.46,237.5v-1.6M382.46,16.5v1.6M400.50,237.5v-2.6M400.50,16.5v2.6M41.5,237.50h2.6M400.5,237.50h-2.6M41.5,229.61h1.6M400.5,229.61h-1.6M41.5,221.71h1.6M400.5,221.71h-1.6M41.5,213.82h1.6M400.5,213.82h-1.6M41.5,205.93h2.6M400.5,205.93h-2.6M41.5,198.04h1.6M400.5,198.04h-1.6M41.5,190.14h1.6M400.5,190.14h-1.6M41.5,182.25h1.6M400.5,182.25h-1.6M41.5,174.36h2.6M400.5,174.36h-2.6M41.5,166.46h1.6M400.5,166.46h-1.6M41.5,158.57h1.6M400.5,158.57h-1.6M41.5,150.68h1.6M400.5,150.68h-1.6M41.5,142.79h2.6M400.5,142.79h-2.6M41.5,134.89h1.6M400.5,134.89h-1.6M41.5,127.00h1.6M400.5,127.00h-1.6M41.5,119.11h1.6M400.5,119.11h-1.6M41.5,111.21h2.6M400.5,111.21h-2.6M41.5,103.32h1.6M400.5,103.32h-1.6M41.5,95.43h1.6M400.5,95.43h-1.6M41.5,87.54h1.6M400.5,87.54h-1.6M41.5,79.64h2.6M400.5,79.64h-2.6M41.5,71.75h1.6M400.5,71.75h-1.6M41.5,63.86h1.6M400.5,63.86h-1.6M41.5,55.96h1.6M400.5,55.96h-1.6M41.5,48.07h2.6M400.5,48.07h-2.6M41.5,40.18h1.6M400.5,40.18h-1.6M41.5,32.29h1.6M400.5,32.29h-1.6M41.5,24.39h1.6M400.5,24.39h-1.6M41.5,16.50h2.6M400.5,16.50h-2.6" stroke="#d0d0d0" stroke-width="0.7" fill="none"/>
<g font-family="Liberation Serif, serif" font-size="9.2" fill="#111" stroke="#111" stroke-width="0.1">
<text x="38.9" y="241.90" text-anchor="end">0.00</text>
<text x="38.9" y="210.33" text-anchor="end">0.02</text>
<text x="38.9" y="178.76" text-anchor="end">0.04</text>
<text x="38.9" y="147.19" text-anchor="end">0.06</text>
<text x="38.9" y="115.61" text-anchor="end">0.08</text>
<text x="38.9" y="84.04" text-anchor="end">0.10</text>
<text x="38.9" y="52.47" text-anchor="end">0.12</text>
<text x="38.9" y="20.90" text-anchor="end">0.14</text>
<text x="129.90" y="250.3" text-anchor="middle" letter-spacing="0.2">50</text>
<text x="220.10" y="250.3" text-anchor="middle" letter-spacing="0.2">100</text>
<text x="310.30" y="250.3" text-anchor="middle" letter-spacing="0.2">150</text>
<text x="400.50" y="250.3" text-anchor="middle" letter-spacing="0.2">200</text>
</g>
<text x="221.6" y="271.3" font-family="Liberation Serif, serif" font-style="italic" font-size="13" text-anchor="middle" fill="#222">&#8467;</text>
<path d="M317.1,32.10H328.0" stroke="#0c0ca4" stroke-width="1.5" fill="none"/>
<g font-family="Liberation Serif, serif" font-size="10" fill="#0c0ca4" stroke="#0c0ca4" stroke-width="0.08">
<text x="331.6" y="34.05">m</text>
<text transform="translate(339.4,34.05) scale(1.36,1)" font-style="italic" stroke="#fff" stroke-width="0.04">&#956;</text>
<path d="M346.9,30.80h5.6M346.9,32.55h5.6" stroke-width="0.8" fill="none"/>
<text x="353.25" y="34.05" font-size="10.4" letter-spacing="0.3">H</text>
</g>
<path d="M317.1,52.85H328.0" stroke="#b41414" stroke-width="1.5" fill="none" stroke-dasharray="3.6 0.9 2.1 0.4 1.8 0.4 1.8"/>
<g font-family="Liberation Serif, serif" font-size="10" fill="#b41414" stroke="#b41414" stroke-width="0.08">
<text x="331.6" y="54.80">m</text>
<text transform="translate(339.4,54.80) scale(1.36,1)" font-style="italic" stroke="#fff" stroke-width="0.04">&#956;</text>
<path d="M346.9,51.55h5.6M346.9,53.30h5.6" stroke-width="0.8" fill="none"/>
<text x="353.3" y="54.80" font-size="10.4" letter-spacing="0.3">1.1H</text>
</g>
<path d="M317.1,73.60H328.0" stroke="#b4ac14" stroke-width="1.5" fill="none" stroke-dasharray="1.6 1.0 3.9 0.7 1.6 0.7 1.6"/>
<g font-family="Liberation Serif, serif" font-size="10" fill="#b4ac14" stroke="#b4ac14" stroke-width="0.08">
<text x="331.6" y="75.55">m</text>
<text transform="translate(339.4,75.55) scale(1.36,1)" font-style="italic" stroke="#fff" stroke-width="0.04">&#956;</text>
<path d="M346.9,72.30h5.6M346.9,74.05h5.6" stroke-width="0.8" fill="none"/>
<text x="353.3" y="75.55" font-size="10.4" letter-spacing="0.3">1.3H</text>
</g>
<path d="M317.1,94.35H328.0" stroke="#14b414" stroke-width="1.5" fill="none" stroke-dasharray="1.55 0.72"/>
<g font-family="Liberation Serif, serif" font-size="10" fill="#14b414" stroke="#14b414" stroke-width="0.08">
<text x="331.6" y="96.30">m</text>
<text transform="translate(339.4,96.30) scale(1.36,1)" font-style="italic" stroke="#fff" stroke-width="0.04">&#956;</text>
<path d="M346.9,93.05h5.6M346.9,94.80h5.6" stroke-width="0.8" fill="none"/>
<text x="353.3" y="96.30" font-size="10.4" letter-spacing="0.3">1.5H</text>
</g>
<g font-family="Liberation Serif, serif" fill="#1c1c1c" stroke="#1c1c1c" stroke-width="0.15">
<text transform="translate(15.39,203.57) rotate(-90)" font-size="12" letter-spacing="0">(</text>
<text transform="translate(16.68,198.88) rotate(-90)" font-size="13.2" letter-spacing="0">&lt;</text>
<path d="M15.43,189.66 C15.88,189.41 15.70,188.93 14.63,188.60 L7.87,186.34" stroke="#1c1c1c" stroke-width="1.1" fill="none" stroke-linecap="round"/><path d="M9.38,189.66 C7.60,189.66 7.16,187.94 7.16,185.85 C7.16,183.76 7.60,182.04 9.38,182.04 C11.16,182.04 11.61,183.76 11.61,185.85 C11.61,187.94 11.16,189.66 9.38,189.66Z" stroke="#1c1c1c" stroke-width="0.7" fill="none"/><path d="M10.18,189.50 C8.58,188.93 8.05,187.63 7.87,186.34" stroke="#1c1c1c" stroke-width="0.6" fill="none"/>
<text transform="translate(17.47,181.45) rotate(-90)" font-size="9.1" letter-spacing="0">S</text>
<text transform="translate(16.68,175.19) rotate(-90)" font-size="13.2" letter-spacing="0">&gt;</text>
<text transform="translate(18.05,166.43) rotate(-90)" font-size="9.2" letter-spacing="0">disk</text>
<text transform="translate(16.88,148.28) rotate(-90)" font-size="13.2" letter-spacing="0">&#8722;</text>
<text transform="translate(16.68,139.33) rotate(-90)" font-size="13.2" letter-spacing="0">&lt;</text>
<path d="M15.43,130.46 C15.88,130.22 15.70,129.74 14.63,129.42 L7.87,127.18" stroke="#1c1c1c" stroke-width="1.1" fill="none" stroke-linecap="round"/><path d="M9.38,130.46 C7.60,130.46 7.16,128.77 7.16,126.70 C7.16,124.63 7.60,122.94 9.38,122.94 C11.16,122.94 11.61,124.63 11.61,126.70 C11.61,128.77 11.16,130.46 9.38,130.46Z" stroke="#1c1c1c" stroke-width="0.7" fill="none"/><path d="M10.18,130.30 C8.58,129.74 8.05,128.46 7.87,127.18" stroke="#1c1c1c" stroke-width="0.6" fill="none"/>
<text transform="translate(17.48,122.21) rotate(-90)" font-size="9.1" letter-spacing="0">N</text>
<text transform="translate(16.68,114.24) rotate(-90)" font-size="13.2" letter-spacing="0">&gt;</text>
<text transform="translate(18.05,105.53) rotate(-90)" font-size="9.2" letter-spacing="0">disk</text>
<text transform="translate(15.39,88.43) rotate(-90)" font-size="12" letter-spacing="0">)</text>
<path d="M17.1,83.0L7.2,80.0" stroke="#1c1c1c" stroke-width="0.8" fill="none"/>
<path d="M15.43,77.45 C15.88,77.21 15.70,76.72 14.63,76.39 L7.87,74.09" stroke="#1c1c1c" stroke-width="1.1" fill="none" stroke-linecap="round"/><path d="M9.38,77.45 C7.60,77.45 7.16,75.72 7.16,73.60 C7.16,71.48 7.60,69.75 9.38,69.75 C11.16,69.75 11.61,71.48 11.61,73.60 C11.61,75.72 11.16,77.45 9.38,77.45Z" stroke="#1c1c1c" stroke-width="0.7" fill="none"/><path d="M10.18,77.29 C8.58,76.72 8.05,75.40 7.87,74.09" stroke="#1c1c1c" stroke-width="0.6" fill="none"/>
<text transform="translate(18.14,69.94) rotate(-90)" font-size="9.4" letter-spacing="0.3">Ave.</text>
</g>
</svg>
</body></html>
